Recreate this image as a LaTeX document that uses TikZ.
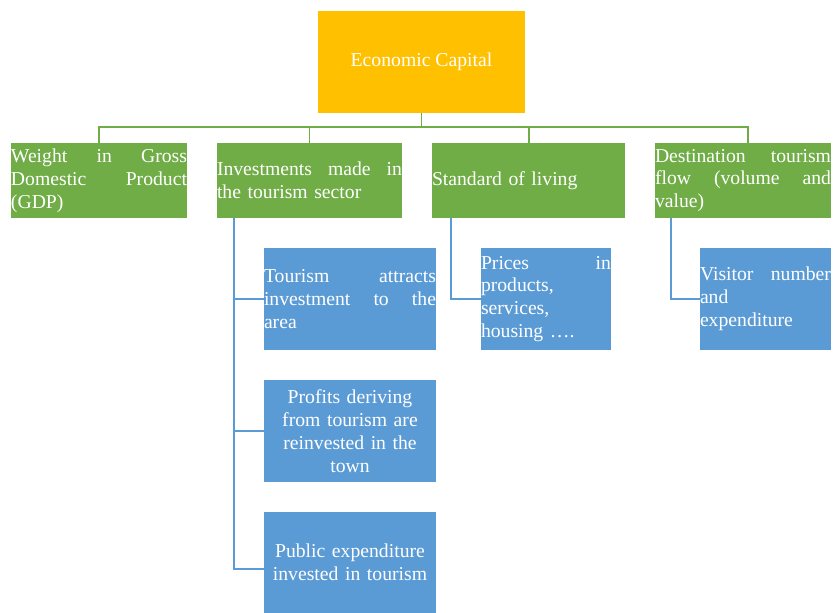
\documentclass[tikz,border=0pt]{standalone}
\usepackage{fontspec}
\setmainfont{Liberation Serif}
\definecolor{capgold}{HTML}{FFC000}
\definecolor{leafgreen}{HTML}{70AD47}
\definecolor{skyblue}{HTML}{5B9BD5}
\begin{document}
\begin{tikzpicture}[
    box/.style={text=white,inner xsep=0pt,inner ysep=0pt,font=\fontsize{16.8}{19.5}\selectfont},
    capbox/.style={box,fill=capgold,minimum width=6.21cm,minimum height=3.06cm,align=center},
    greenbox/.style={box,fill=leafgreen,minimum height=2.25cm,align=left},
    bluebox/.style={box,fill=skyblue,minimum height=3.06cm},
    greenline/.style={leafgreen,line width=1.7pt},
    blueline/.style={skyblue,line width=1.7pt}
  ]
  \useasboundingbox (0,0) rectangle (24.99,-18.39);
  \node[capbox] (cap) at (12.645,-1.86) {Economic Capital};
  \node[greenbox,minimum width=5.28cm,text width=5.28cm] (gdp) at (2.97,-5.415)
    {Weight\hfill in\hfill Gross\\Domestic\hfill Product\\(GDP)};
  \node[greenbox,minimum width=5.55cm,text width=5.55cm] (invest) at (9.285,-5.415)
    {Investments\hfill made\hfill in\\the tourism sector};
  \node[greenbox,minimum width=5.79cm,text width=5.79cm] (living) at (15.855,-5.415)
    {Standard of living};
  \node[greenbox,minimum width=5.28cm,text width=5.28cm] (flow) at (22.29,-5.415)
    {Destination\hfill tourism\\flow\hfill (volume\hfill and\\value)};
  \node[bluebox,align=left,minimum width=5.16cm,text width=5.16cm] (attract) at (10.5,-8.97)
    {Tourism\hfill attracts\\investment\hfill to\hfill the\\area};
  \node[bluebox,align=center,minimum width=5.16cm,text width=5.16cm] (profit) at (10.5,-12.93)
    {Profits deriving\\from tourism are\\reinvested in the\\town};
  \node[bluebox,align=center,minimum width=5.16cm,text width=5.16cm] (public) at (10.5,-16.875)
    {Public expenditure\\invested in tourism};
  \node[bluebox,align=left,minimum width=3.9cm,text width=3.9cm] (prices) at (16.38,-8.97)
    {Prices\hfill in\\products,\\services,\\housing ….};
  \node[bluebox,align=left,minimum width=3.93cm,text width=3.93cm] (visitor) at (22.965,-8.97)
    {Visitor\hfill number\\and\\expenditure};
  % green tree
  \coordinate (bus) at (cap.south |- 0,-3.81);
  \draw[greenline] (cap.south) -- (bus);
  \draw[greenline] (gdp.north) |- (bus) -| ([xshift=0.15cm]flow.north);
  \draw[greenline] (invest.north) -- (invest.north |- bus);
  \draw[greenline] (living.north) -- (living.north |- bus);
  % blue branches
  \coordinate (spine) at ([xshift=0.51cm]invest.south west);
  \draw[blueline] (spine) |- ([yshift=-0.2cm]public.west);
  \draw[blueline] (spine |- attract.west) -- (attract.west);
  \draw[blueline] (spine |- profit.west) -- (profit.west);
  \coordinate (pricefoot) at ([xshift=0.57cm]living.south west);
  \draw[blueline] (pricefoot) |- (prices.west);
  \coordinate (flowfoot) at ([xshift=0.48cm]flow.south west);
  \draw[blueline] (flowfoot) |- (visitor.west);
\end{tikzpicture}
\end{document}
